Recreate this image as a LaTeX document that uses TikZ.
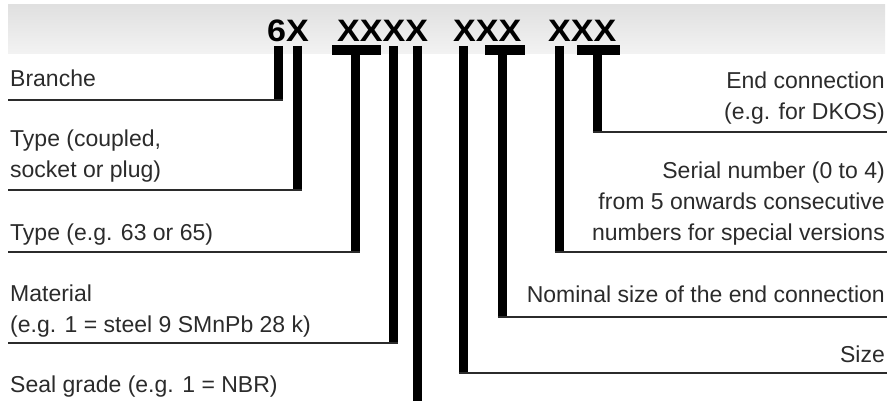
\documentclass[tikz,border=0pt]{standalone}
\usepackage{fontspec}
\setmainfont{Liberation Sans}
\usetikzlibrary{positioning}
\definecolor{ink}{HTML}{2B2B2B}
\definecolor{band}{HTML}{E0E0E0}

\begin{document}
\begin{tikzpicture}[x=1pt,y=-1pt,
  lbl/.style={inner sep=0pt,text=ink,font=\fontsize{23}{31}\selectfont},
  code/.style={inner sep=0pt,font=\fontsize{31}{31}\selectfont\bfseries,xscale=1.1,anchor=base west},
  bar/.style={line width=9pt},
  rule/.style={line width=1.6pt,draw=ink}]
\useasboundingbox (0,0) rectangle (890,401);
\shade[top color=band,bottom color=band!40] (8,5) rectangle (885,54);

% order code
\node[code] (grp1) at (267,42) {6X};
\node[code] (grp2) at (337,42) {XXXX};
\node[code] (grp3) at (453,42) {XXX};
\node[code] (grp4) at (548,42) {XXX};

% left hand labels (base = last line)
\node[lbl,anchor=base west] (branche) at (10,87) {Branche};
\node[lbl,anchor=base west,align=left] (kind) at (10,177) {Type (coupled,\\socket or plug)};
\node[lbl,anchor=base west] (type) at (10,240) {Type (e.g. 63 or 65)};
\node[lbl,anchor=base west,align=left] (material) at (10,332) {Material\\(e.g. 1 = steel 9 SMnPb 28 k)};
\node[lbl,anchor=base west] (seal) at (10,392) {Seal grade (e.g. 1 = NBR)};

% right hand labels
\node[lbl,anchor=base east,align=right] (endconn) at (885,120) {End connection\\(e.g. for DKOS)};
\node[lbl,anchor=base east,align=right] (serial) at (885,240) {Serial number (0 to 4)\\from 5 onwards consecutive\\numbers for special versions};
\node[lbl,anchor=base east] (nominal) at (885,302) {Nominal size of the end connection};
\node[lbl,anchor=base east] (size) at (885,362) {Size};

% leader ends
\coordinate (top1) at (278,46);  \coordinate (knee1) at (278,100.5); \coordinate (end1) at (8,100);
\coordinate (top2) at (297,46);  \coordinate (knee2) at (297,190.5); \coordinate (end2) at (8,190);
\coordinate (tl3) at (332,50);   \coordinate (tr3) at (381,50);
\coordinate (top3) at (355,50);  \coordinate (knee3) at (355,252.5); \coordinate (end3) at (8,252);
\coordinate (top4) at (393,46);  \coordinate (knee4) at (393,343.5); \coordinate (end4) at (8,343);
\coordinate (top5) at (417,46);  \coordinate (knee5) at (417,401);
\coordinate (top6) at (463,46);  \coordinate (knee6) at (463,373.5); \coordinate (end6) at (887,373);
\coordinate (tl7) at (485,50);   \coordinate (tr7) at (525,50);
\coordinate (top7) at (502,50);  \coordinate (knee7) at (502,317.5); \coordinate (end7) at (887,317);
\coordinate (top8) at (559,46);  \coordinate (knee8) at (559,252.5); \coordinate (end8) at (887,252);
\coordinate (tl9) at (577,50);   \coordinate (tr9) at (620,50);
\coordinate (top9) at (597,50);  \coordinate (knee9) at (597,132.5); \coordinate (end9) at (887,132);

% leaders
\draw[bar] (top1) -- (knee1);  \draw[rule] (knee1) ++(4.5,-0.5) -- (end1);
\draw[bar] (top2) -- (knee2);  \draw[rule] (knee2) ++(4.5,-0.5) -- (end2);
\draw[line width=10pt] (tl3) -- (tr3);
\draw[bar] (top3) -- (knee3);  \draw[rule] (knee3) ++(4.5,-0.5) -- (end3);
\draw[bar] (top4) -- (knee4);  \draw[rule] (knee4) ++(4.5,-0.5) -- (end4);
\draw[bar] (top5) -- (knee5);
\draw[bar] (top6) -- (knee6);  \draw[rule] (knee6) ++(-4.5,-0.5) -- (end6);
\draw[line width=10pt] (tl7) -- (tr7);
\draw[bar] (top7) -- (knee7);  \draw[rule] (knee7) ++(-4.5,-0.5) -- (end7);
\draw[bar] (top8) -- (knee8);  \draw[rule] (knee8) ++(-4.5,-0.5) -- (end8);
\draw[line width=10pt] (tl9) -- (tr9);
\draw[bar] (top9) -- (knee9);  \draw[rule] (knee9) ++(-4.5,-0.5) -- (end9);
\end{tikzpicture}
\end{document}
